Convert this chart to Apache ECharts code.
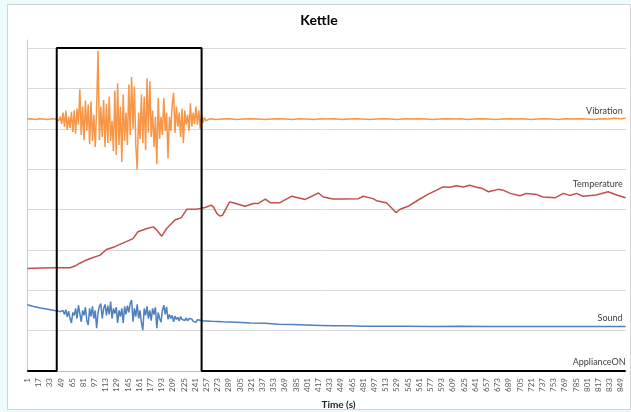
<!DOCTYPE html>
<html>
<head>
<meta charset="utf-8">
<script src="https://cdn.jsdelivr.net/npm/echarts@6/dist/echarts.min.js"></script>
<style>
  html, body { margin: 0; padding: 0; width: 631px; height: 412px; background: #eefbfc; overflow: hidden; }
  #frame { position: absolute; left: 7px; top: 4px; width: 622px; height: 404px; background: #ffffff; border: 1px solid #d4d4d4; }
  #chart { width: 622px; height: 404px; }
</style>
</head>
<body>
<div id="frame"><div id="chart"></div></div>
<script>
// Kettle run: sensor traces against time (s), one reading per second.
const sampleCount = 856;
const timeLabels = Array.from({ length: sampleCount }, (_, i) => String(i + 1));

// Switch-on interval of the appliance (s) and its plotted level.
const applianceOnStart = 43;
const applianceOnEnd = 250;
const applianceOnLevel = 8;

// Vibration: quiet before/after, burst while boiling.
const vibrationBefore = [[1,6.24],[6,6.25],[12,6.23],[18,6.25],[24,6.24],[30,6.23],[36,6.25],[42,6.24]];
const vibrationBurstStart = 44;
const vibrationBurstStep = 2;
const vibrationBurst = [
  6.24,6.20,6.30,6.12,6.40,6.05,6.45,5.98,6.30,6.02,
  6.42,5.92,6.46,5.88,6.50,6.10,6.98,5.85,6.55,5.72,
  6.70,5.95,6.60,5.62,6.68,5.70,6.35,5.55,6.50,7.93,
  5.72,6.55,5.80,6.71,5.55,6.62,5.65,6.80,5.70,6.20,
  5.45,6.95,5.35,7.13,5.60,6.55,5.18,6.85,5.70,6.40,
  5.60,7.10,5.85,7.28,6.00,7.05,5.60,4.99,6.40,5.75,
  6.85,5.65,6.80,5.47,7.25,5.90,7.18,5.80,6.45,5.55,
  6.30,5.12,6.76,5.75,6.30,5.85,6.76,5.95,6.40,5.27,
  6.30,5.95,6.60,6.89,5.90,6.55,6.05,6.40,5.80,6.50,
  5.64,6.45,6.10,6.35,5.95,6.63,6.05,6.40,6.12,6.55,
  6.10,6.46,6.00,6.35,6.15,6.28,6.20
];
const vibrationAfter = [
  [262,6.25],[270,6.23],[280,6.24],[290,6.25],[300,6.23],[310,6.24],[320,6.25],[330,6.24],
  [340,6.23],[350,6.24],[360,6.25],[370,6.24],[380,6.23],[390,6.25],[400,6.24],[410,6.23],
  [420,6.25],[430,6.24],[440,6.25],[450,6.23],[460,6.24],[470,6.25],[480,6.24],[490,6.23],
  [500,6.24],[510,6.25],[520,6.24],[530,6.23],[540,6.25],[550,6.24],[560,6.25],[570,6.24],
  [580,6.23],[590,6.24],[600,6.25],[610,6.24],[620,6.25],[630,6.23],[640,6.24],[650,6.25],
  [660,6.24],[670,6.23],[680,6.24],[690,6.25],[700,6.24],[710,6.25],[720,6.23],[730,6.24],
  [740,6.25],[750,6.24],[760,6.23],[770,6.25],[780,6.24],[790,6.25],[800,6.24],[810,6.23],
  [820,6.25],[830,6.24],[840,6.26],[850,6.25],[856,6.26]
];

// Temperature: slow rise while heating, then wandering plateau.
const temperature = [
  [1,2.54],[20,2.55],[43,2.56],[62,2.56],[69,2.60],[76,2.67],[83,2.73],[93,2.80],[105,2.87],
  [114,3.01],[126,3.08],[139,3.18],[152,3.28],[159,3.45],[172,3.53],[181,3.57],[186,3.49],
  [193,3.34],[200,3.53],[212,3.74],[221,3.80],[229,4.01],[243,4.01],[255,4.05],[264,4.11],
  [267,4.06],[272,3.90],[276,3.84],[280,3.86],[290,4.19],[295,4.17],[312,4.08],[324,4.15],
  [331,4.15],[341,4.26],[348,4.17],[362,4.17],[379,4.33],[398,4.25],[417,4.41],[424,4.31],
  [438,4.26],[452,4.26],[474,4.27],[481,4.33],[495,4.27],[500,4.22],[514,4.17],[522,4.03],
  [528,3.92],[533,4.00],[545,4.08],[559,4.23],[574,4.38],[586,4.48],[595,4.56],[605,4.55],
  [614,4.59],[624,4.56],[633,4.60],[643,4.55],[650,4.53],[660,4.44],[674,4.50],[681,4.48],
  [691,4.40],[705,4.34],[714,4.40],[729,4.37],[738,4.31],[755,4.29],[767,4.40],[776,4.35],
  [786,4.40],[795,4.33],[814,4.36],[831,4.44],[843,4.36],[856,4.29]
];

// Sound: slow decay with a noisy stretch while boiling.
const soundBefore = [[1,1.64],[10,1.60],[20,1.56],[30,1.53],[40,1.50]];
const soundBurstStart = 44;
const soundBurstStep = 2;
const soundBurst = [
  1.49,1.48,1.47,1.46,1.50,1.40,1.52,1.34,1.48,1.30,
  1.19,1.45,1.38,1.55,1.30,1.63,1.42,1.22,1.50,1.38,
  1.58,1.25,1.14,1.55,1.35,1.60,1.30,1.50,1.06,1.45,
  1.60,1.67,1.30,1.55,1.65,1.38,1.62,1.40,1.72,1.30,
  1.55,1.42,1.58,1.19,1.50,1.35,1.55,1.19,1.60,1.40,
  1.62,1.45,1.67,1.76,1.22,1.55,1.35,1.65,1.30,1.50,
  1.20,1.01,1.55,1.38,1.60,1.30,1.50,1.25,1.55,1.40,
  1.58,1.06,1.45,1.30,1.21,1.50,1.63,1.40,1.59,1.28,
  1.40,1.30,1.38,1.22,1.36,1.28,1.33,1.24,1.35,1.28,
  1.31,1.25,1.32,1.24,1.30,1.26,1.29,1.23,1.25,1.21,
  1.27,1.29,1.26,1.27,1.24,1.25,1.24
];
const soundAfter = [
  [264,1.23],[280,1.22],[300,1.21],[320,1.19],[340,1.18],[360,1.16],[380,1.15],[400,1.14],
  [420,1.13],[440,1.12],[460,1.12],[480,1.11],[500,1.11],[540,1.11],[580,1.10],[620,1.11],
  [660,1.10],[700,1.10],[740,1.10],[780,1.10],[820,1.10],[856,1.10]
];

// Convert [time, value] pairs to [category index, value].
function toPoints(pairs) {
  return pairs.map(([t, v]) => [t - 1, v]);
}
function burstPairs(start, step, values) {
  return values.map((v, i) => [start + i * step, v]);
}

const vibrationData = toPoints(vibrationBefore
  .concat(burstPairs(vibrationBurstStart, vibrationBurstStep, vibrationBurst))
  .concat(vibrationAfter));
const soundData = toPoints(soundBefore
  .concat(burstPairs(soundBurstStart, soundBurstStep, soundBurst))
  .concat(soundAfter));
const temperatureData = toPoints(temperature);
const applianceData = toPoints([
  [1, 0], [applianceOnStart, 0], [applianceOnStart, applianceOnLevel],
  [applianceOnEnd, applianceOnLevel], [applianceOnEnd, 0], [sampleCount, 0]
]);

function endLabel(padBottom, padRight) {
  return {
    show: true,
    formatter: '{a}',
    align: 'right',
    verticalAlign: 'bottom',
    distance: 0,
    color: '#404040',
    fontSize: 9,
    fontFamily: 'Lato',
    padding: [0, padRight, padBottom, 0]
  };
}

function lineSeries(name, data, color, width, padBottom, padRight) {
  return {
    name: name,
    type: 'line',
    data: data,
    showSymbol: false,
    symbol: 'none',
    lineStyle: { color: color, width: width },
    itemStyle: { color: color },
    endLabel: endLabel(padBottom, padRight),
    emphasis: { disabled: true }
  };
}

const chart = echarts.init(document.getElementById('chart'), null, { renderer: 'canvas' });
chart.setOption({
  animation: false,
  backgroundColor: '#ffffff',
  textStyle: { fontFamily: 'Lato' },
  title: {
    text: 'Kettle',
    left: 'center',
    top: 8,
    padding: 0,
    textStyle: { fontFamily: 'Lato', fontWeight: 'bold', fontSize: 14, color: '#000000' }
  },
  grid: { left: 19, top: 35, width: 599, height: 331, containLabel: false, outerBoundsMode: 'none' },
  xAxis: {
    type: 'category',
    data: timeLabels,
    boundaryGap: true,
    name: 'Time (s)',
    nameLocation: 'middle',
    nameGap: 25,
    nameTextStyle: { fontFamily: 'Lato', fontWeight: 'bold', fontSize: 10, color: '#262626', padding: [0, 0, 0, 24] },
    axisLine: { show: true, lineStyle: { color: '#bfbfbf', width: 1 } },
    axisTick: { show: false },
    axisLabel: { interval: 15, rotate: 90, fontSize: 8, color: '#595959', margin: 7, fontFamily: 'Lato' },
    splitLine: { show: false }
  },
  yAxis: {
    type: 'value',
    min: 0,
    max: 8.2,
    interval: 1,
    axisLabel: { show: false },
    axisTick: { show: false },
    axisLine: { show: true, lineStyle: { color: '#c8c8c8', width: 1 } },
    splitLine: { show: true, showMaxLine: false, showMinLine: false, lineStyle: { color: '#d9d9d9', width: 1 } }
  },
  series: [
    lineSeries('Vibration', vibrationData, '#f79646', 1.5, 3, 3),
    lineSeries('Temperature', temperatureData, '#c0504d', 1.5, 9, 3),
    lineSeries('Sound', soundData, '#4f81bd', 1.5, 4, 3),
    lineSeries('ApplianceON', applianceData, '#000000', 2, 4, 0)
  ]
});
</script>
</body>
</html>
